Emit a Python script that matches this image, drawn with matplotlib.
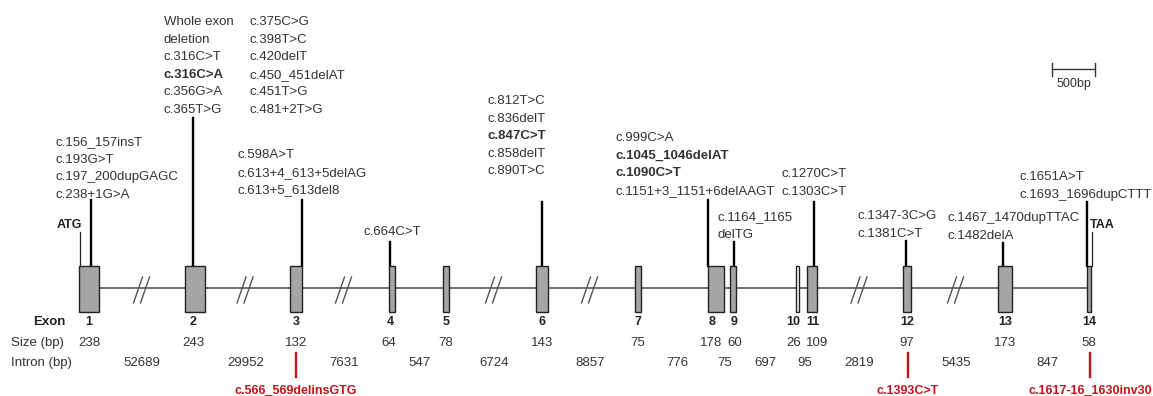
import numpy as np
import matplotlib.pyplot as plt
from matplotlib.patches import Rectangle

plt.rcParams['font.family'] = ['Liberation Sans', 'DejaVu Sans']

# Gene structure data
exon_numbers = ['1', '2', '3', '4', '5', '6', '7', '8', '9', '10', '11', '12', '13', '14']
exon_sizes = [238, 243, 132, 64, 78, 143, 75, 178, 60, 26, 109, 97, 173, 58]
intron_sizes = [52689, 29952, 7631, 547, 6724, 8857, 776, 75, 697, 95, 2819, 5435, 847]
broken_introns = [0, 1, 2, 4, 5, 10, 11]   # introns drawn shortened (//)
scale_bp = 500

# Variants per exon (bold = recurrent)
muts_ex1 = ['c.156_157insT', 'c.193G>T', 'c.197_200dupGAGC', 'c.238+1G>A']
muts_ex2a = ['Whole exon', 'deletion', 'c.316C>T', 'c.316C>A', 'c.356G>A', 'c.365T>G']
muts_ex2b = ['c.375C>G', 'c.398T>C', 'c.420delT', 'c.450_451delAT', 'c.451T>G', 'c.481+2T>G']
muts_ex3 = ['c.598A>T', 'c.613+4_613+5delAG', 'c.613+5_613del8']
muts_ex4 = ['c.664C>T']
muts_ex6 = ['c.812T>C', 'c.836delT', 'c.847C>T', 'c.858delT', 'c.890T>C']
muts_ex8 = ['c.999C>A', 'c.1045_1046delAT', 'c.1090C>T', 'c.1151+3_1151+6delAAGT']
muts_ex9 = ['c.1164_1165', 'delTG']
muts_ex11 = ['c.1270C>T', 'c.1303C>T']
muts_ex12 = ['c.1347-3C>G', 'c.1381C>T']
muts_ex13 = ['c.1467_1470dupTTAC', 'c.1482delA']
muts_ex14 = ['c.1651A>T', 'c.1693_1696dupCTTT']
bold_muts = ['c.316C>A', 'c.847C>T', 'c.1045_1046delAT', 'c.1090C>T']
red_muts = ['c.566_569delinsGTG', 'c.1393C>T', 'c.1617-16_1630inv30']
red_exons = [2, 11, 13]

# Schematic layout (pixels, not to scale)
exon_x = [89, 195, 296, 392, 446, 542, 638, 716, 733, 797.5, 812, 907, 1005, 1089]
label_x = [89, 193, 296, 390, 446, 542, 638, 712, 734, 793, 813, 907, 1005, 1089]
size_x = [89, 193, 296, 389, 446, 542, 638, 711, 735, 794, 817, 907, 1005, 1089]
px_per_bp = 43 / scale_bp
box_top, box_bot, mid_y = 266, 312, 288

stem_x = [91, 193, 302, 390, 542, 708, 734, 814, 906, 1003, 1087]
stem_top = [200, 118, 200, 242, 202, 200, 242, 202, 241, 243, 202]
blocks = [  # (lines, left x, first line y)
    (muts_ex1, 55, 142),
    (muts_ex2a, 164, 22),
    (muts_ex2b, 250, 22),
    (muts_ex3, 237, 155),
    (muts_ex4, 363, 232),
    (muts_ex6, 487, 101),
    (muts_ex8, 616, 138),
    (muts_ex9, 718, 217),
    (muts_ex11, 782, 174),
    (muts_ex12, 857, 216),
    (muts_ex13, 947, 218),
    (muts_ex14, 1020, 177),
]
line_h = 17.6
text_col = '#333333'
red = '#c0141c'

fig = plt.figure(figsize=(11.53, 3.96), dpi=100)
ax = fig.add_axes([0, 0, 1, 1])
ax.set_xlim(0, 1153)
ax.set_ylim(396, 0)
ax.axis('off')

# backbone
ax.plot([exon_x[0], exon_x[-1]], [mid_y, mid_y], color='#555555', lw=1.2, zorder=1)

# break marks
for i in broken_introns:
    bx = (exon_x[i] + exon_x[i + 1]) / 2
    for dx in (-3.5, 3.5):
        ax.plot([bx + dx - 5, bx + dx + 4], [303, 277], color='#555555', lw=1.0, zorder=2)

# exons
for i, size in enumerate(exon_sizes):
    w = size * px_per_bp
    fc = 'white' if exon_numbers[i] == '10' else '#a5a5a5'
    ax.add_patch(Rectangle((exon_x[i] - w / 2, box_top), w, box_bot - box_top,
                           facecolor=fc, edgecolor='#222222', lw=1.0, zorder=3))

# start / stop codons
ax.plot([80, 80], [232, box_top], color='#222222', lw=0.9)
ax.text(82, 225, 'ATG', ha='right', va='center', fontsize=9, fontweight='bold', color='#222222')
ax.plot([1092, 1092], [232, box_top], color='#222222', lw=0.9)
ax.text(1090, 225, 'TAA', ha='left', va='center', fontsize=9, fontweight='bold', color='#222222')

# variant stems and labels
for x, top in zip(stem_x, stem_top):
    ax.plot([x, x], [top, box_top], color='black', lw=1.7, zorder=2)

for lines, x0, y0 in blocks:
    for k, s in enumerate(lines):
        ax.text(x0, y0 + k * line_h, s, ha='left', va='center', fontsize=9.5,
                color=text_col, fontweight='bold' if s in bold_muts else 'normal')

# table rows
ax.text(66, 322, 'Exon', ha='right', va='center', fontsize=9.5, fontweight='bold', color='#222222')
ax.text(11, 343, 'Size (bp)', ha='left', va='center', fontsize=9.5, color=text_col)
ax.text(11, 363, 'Intron (bp)', ha='left', va='center', fontsize=9.5, color=text_col)
for i, num in enumerate(exon_numbers):
    ax.text(label_x[i], 322, num, ha='center', va='center', fontsize=9,
            fontweight='bold', color='#222222')
    ax.text(size_x[i], 343, str(exon_sizes[i]), ha='center', va='center', fontsize=9.5, color=text_col)
for i, size in enumerate(intron_sizes):
    ix = (exon_x[i] + exon_x[i + 1]) / 2
    ax.text(ix, 363, str(size), ha='center', va='center', fontsize=9.5, color=text_col)

# variants in red below
for s, i in zip(red_muts, red_exons):
    x = exon_x[i] + (1 if i > 2 else 0)
    ax.plot([x, x], [353, 377], color=red, lw=1.7)
    ax.text(x, 391, s, ha='center', va='center', fontsize=9, fontweight='bold', color=red)

# scale bar
sb = scale_bp * px_per_bp
sx = 1052
ax.plot([sx, sx + sb], [69, 69], color='#333333', lw=1.0)
ax.plot([sx, sx], [63, 76], color='#333333', lw=1.0)
ax.plot([sx + sb, sx + sb], [63, 76], color='#333333', lw=1.0)
ax.text(sx + sb / 2, 84, '500bp', ha='center', va='center', fontsize=9, color=text_col)

fig.savefig('out.png', dpi=100)
